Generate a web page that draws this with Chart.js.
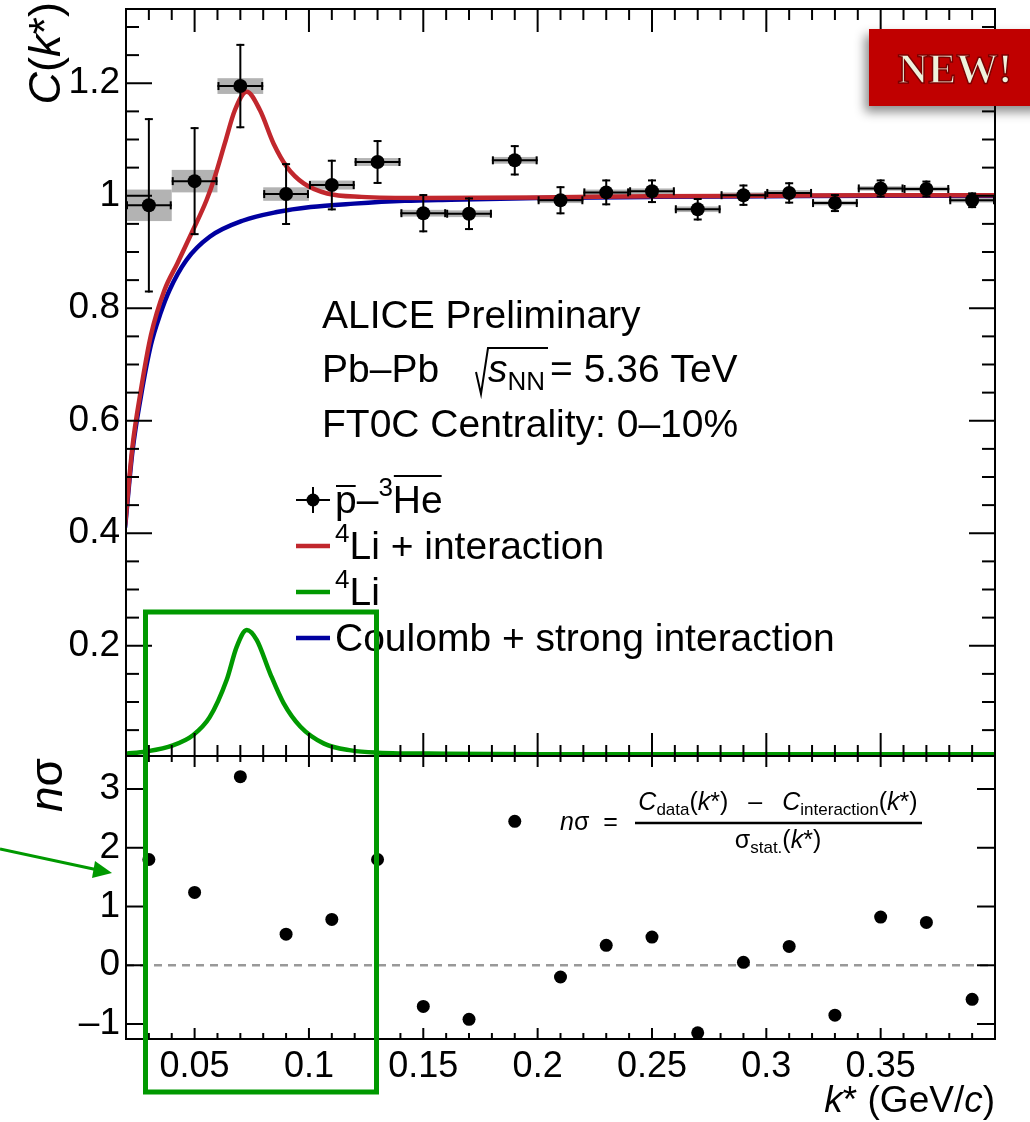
<!DOCTYPE html>
<html>
<head>
<meta charset="utf-8">
<script src="https://cdn.jsdelivr.net/npm/chart.js@4.4.1/dist/chart.umd.min.js"></script>
<style>
  html, body { margin: 0; padding: 0; background: #fff; }
  #wrap { position: relative; width: 1030px; height: 1122px; }
  #wrap canvas { position: absolute; left: 0; top: 0; }
</style>
</head>
<body>
<div id="wrap">
  <canvas id="topPad" width="1030" height="1122"></canvas>
  <canvas id="bottomPad" width="1030" height="1122"></canvas>
</div>
<script>
// pbar - 3Hebar correlation function, Pb-Pb 5.36 TeV
const kBins = [0.03, 0.05, 0.07, 0.09, 0.11, 0.13, 0.15, 0.17, 0.19, 0.21, 0.23, 0.25, 0.27, 0.29, 0.31, 0.33, 0.35, 0.37, 0.39];
const binWidth = 0.02;
const cData = [0.983, 1.026, 1.195, 1.003, 1.019, 1.060, 0.969, 0.968, 1.063, 0.992, 1.006, 1.008, 0.976, 1.001, 1.005, 0.987, 1.013, 1.012, 0.992];
const statErr = [0.155, 0.096, 0.075, 0.055, 0.045, 0.039, 0.034, 0.029, 0.027, 0.025, 0.023, 0.021, 0.020, 0.019, 0.019, 0.016, 0.016, 0.015, 0.014];
const systErr = [0.028, 0.020, 0.014, 0.012, 0.008, 0.007, 0.006, 0.006, 0.006, 0.005, 0.005, 0.005, 0.005, 0.005, 0.005, 0.004, 0.004, 0.004, 0.004];
const nSigma = [1.80, 1.24, 3.21, 0.53, 0.78, 1.80, -0.70, -0.92, 2.45, -0.20, 0.34, 0.48, -1.15, 0.05, 0.32, -0.85, 0.82, 0.73, -0.58];

// 4Li + interaction
const liIntK = [0.0196, 0.0228, 0.0265, 0.0309, 0.0368, 0.0425, 0.0486, 0.0552, 0.0588, 0.0632, 0.0676, 0.0728, 0.0786, 0.0845, 0.0904, 0.0977, 0.108, 0.123, 0.15, 0.2, 0.25, 0.3, 0.35, 0.4];
const liIntC = [0.414, 0.553, 0.654, 0.752, 0.832, 0.880, 0.933, 0.992, 1.033, 1.093, 1.152, 1.185, 1.152, 1.093, 1.051, 1.022, 1.004, 0.998, 0.996, 0.997, 0.999, 1.000, 1.001, 1.001];
// Coulomb + strong interaction
const coulK = [0.0196, 0.0228, 0.0265, 0.0309, 0.035, 0.039, 0.0463, 0.0566, 0.0713, 0.086, 0.1007, 0.1197, 0.1418, 0.162, 0.2, 0.25, 0.3, 0.35, 0.4];
const coulC = [0.410, 0.545, 0.643, 0.735, 0.790, 0.832, 0.885, 0.927, 0.956, 0.971, 0.980, 0.986, 0.991, 0.993, 0.996, 0.998, 0.999, 1.000, 1.000];
// 4Li alone
const liK = [0.02, 0.0287, 0.0405, 0.0493, 0.0566, 0.064, 0.0684, 0.0728, 0.0772, 0.083, 0.0889, 0.0963, 0.1066, 0.1184, 0.13, 0.16, 0.2, 0.3, 0.4];
const liC = [0.008, 0.012, 0.023, 0.041, 0.073, 0.139, 0.198, 0.228, 0.21, 0.151, 0.098, 0.056, 0.026, 0.014, 0.010, 0.008, 0.007, 0.007, 0.007];

const xTicks = [0.05, 0.1, 0.15, 0.2, 0.25, 0.3, 0.35];
const topYTicks = [0.2, 0.4, 0.6, 0.8, 1, 1.2];
const bottomYTicks = [-1, 0, 1, 2, 3];

const FONT = '"Liberation Sans", Arial, Helvetica, sans-serif';
const RED = '#c1272d', BLUE = '#0000a0', GREEN = '#009900';

function font(size, italic) { return (italic ? 'italic ' : '') + size + 'px ' + FONT; }

// draw a run of text pieces (sub/superscripts, italics, overlines)
function rich(ctx, x, y, parts, align) {
  let total = 0;
  for (const p of parts) {
    ctx.font = font(p.s, p.i);
    p.w = ctx.measureText(p.t).width;
    total += p.w + (p.g || 0);
  }
  let cx = align === 'right' ? x - total : align === 'center' ? x - total / 2 : x;
  ctx.textAlign = 'left';
  ctx.textBaseline = 'alphabetic';
  for (const p of parts) {
    ctx.font = font(p.s, p.i);
    ctx.fillText(p.t, cx, y + (p.dy || 0));
    if (p.bar) {
      ctx.beginPath();
      ctx.moveTo(cx + 1, y - p.bar);
      ctx.lineTo(cx + p.w - 1, y - p.bar);
      ctx.stroke();
    }
    cx += p.w + (p.g || 0);
  }
}

function seg(ctx, x1, y1, x2, y2) {
  ctx.beginPath(); ctx.moveTo(x1, y1); ctx.lineTo(x2, y2); ctx.stroke();
}

// ROOT style frame with inward ticks
function drawFrame(chart, o) {
  const { ctx, chartArea: a, scales: { x, y } } = chart;
  ctx.save();
  ctx.strokeStyle = '#000';
  ctx.lineWidth = 2;
  ctx.strokeRect(a.left, a.top, a.right - a.left, a.bottom - a.top);
  for (let i = Math.ceil(x.min / 0.01 - 1e-6); i <= Math.floor(x.max / 0.01 + 1e-6); i++) {
    const px = x.getPixelForValue(i * 0.01);
    const len = i % 5 === 0 ? o.xMaj : o.xMin;
    seg(ctx, px, a.top, px, a.top + len);
    seg(ctx, px, a.bottom, px, a.bottom - len);
  }
  for (let i = Math.ceil(y.min / o.yStep - 1e-6); i <= Math.floor(y.max / o.yStep + 1e-6); i++) {
    const py = y.getPixelForValue(i * o.yStep);
    const len = i % o.yRatio === 0 ? o.yMaj : o.yMin;
    seg(ctx, a.left, py, a.left + len, py);
    seg(ctx, a.right, py, a.right - len, py);
  }
  ctx.restore();
}

const fixAxis = (w, h) => s => {
  if (w !== undefined) s.width = w;
  if (h !== undefined) s.height = h;
  s.paddingTop = 0; s.paddingBottom = 0; s.paddingLeft = 0; s.paddingRight = 0;
};

// ---------- upper pad ----------
const topPlugin = {
  id: 'topPad',
  beforeDatasetsDraw(chart) {
    const { ctx, scales: { x, y } } = chart;
    ctx.save();
    ctx.fillStyle = '#b3b3b3';
    kBins.forEach((k, i) => {
      const x1 = x.getPixelForValue(k - binWidth / 2), x2 = x.getPixelForValue(k + binWidth / 2);
      const y1 = y.getPixelForValue(cData[i] + systErr[i]), y2 = y.getPixelForValue(cData[i] - systErr[i]);
      ctx.fillRect(x1, y1, x2 - x1, y2 - y1);
    });
    ctx.restore();
  },
  beforeDatasetDraw(chart, args) {
    if (args.index !== 0) return;
    const { ctx, scales: { x, y } } = chart;
    ctx.save();
    ctx.strokeStyle = '#000';
    ctx.lineWidth = 2;
    kBins.forEach((k, i) => {
      const px = x.getPixelForValue(k), py = y.getPixelForValue(cData[i]);
      const x1 = x.getPixelForValue(k - binWidth / 2), x2 = x.getPixelForValue(k + binWidth / 2);
      const y1 = y.getPixelForValue(cData[i] + statErr[i]), y2 = y.getPixelForValue(cData[i] - statErr[i]);
      seg(ctx, x1, py, x2, py);
      seg(ctx, x1 + 1, py - 4, x1 + 1, py + 4);
      seg(ctx, x2 - 1, py - 4, x2 - 1, py + 4);
      seg(ctx, px, y1, px, y2);
      seg(ctx, px - 4, y1 + 1, px + 4, y1 + 1);
      seg(ctx, px - 4, y2 - 1, px + 4, y2 - 1);
    });
    ctx.restore();
  },
  afterDraw(chart) {
    const ctx = chart.ctx;
    drawFrame(chart, { xMaj: 23, xMin: 11, yStep: 0.05, yRatio: 4, yMaj: 26, yMin: 13 });
    ctx.save();
    ctx.fillStyle = '#000';
    ctx.strokeStyle = '#000';
    ctx.lineWidth = 2;

    // y title
    ctx.save();
    ctx.translate(60, 2);
    ctx.rotate(-Math.PI / 2);
    rich(ctx, 0, 0, [{ t: 'C', s: 45, i: true }, { t: '(', s: 45 }, { t: 'k', s: 45, i: true }, { t: '*', s: 45 }, { t: ')', s: 45 }], 'right');
    ctx.restore();

    // text block
    const T = 39;
    rich(ctx, 322, 328, [{ t: 'ALICE Preliminary', s: T }]);
    rich(ctx, 322, 382, [{ t: 'Pb–Pb', s: T }]);
    ctx.beginPath();
    ctx.moveTo(476, 372); ctx.lineTo(481, 394); ctx.lineTo(488, 348); ctx.lineTo(548, 348);
    ctx.stroke();
    rich(ctx, 488, 382, [{ t: 's', s: T, i: true }, { t: 'NN', s: 26, dy: 8, g: 5 }, { t: '= 5.36 TeV', s: T }]);
    rich(ctx, 322, 437, [{ t: 'FT0C Centrality: 0–10%', s: T }]);

    // legend
    const rows = [500, 546, 592, 638];
    ctx.beginPath(); ctx.moveTo(296, rows[0]); ctx.lineTo(330, rows[0]); ctx.moveTo(313, rows[0] - 13); ctx.lineTo(313, rows[0] + 13); ctx.stroke();
    ctx.beginPath(); ctx.arc(313, rows[0], 6.5, 0, Math.PI * 2); ctx.fill();
    [[1, RED], [2, GREEN], [3, BLUE]].forEach(([r, c]) => {
      ctx.save(); ctx.strokeStyle = c; ctx.lineWidth = 4.5; seg(ctx, 296, rows[r], 330, rows[r]); ctx.restore();
    });
    rich(ctx, 335, rows[0] + 13, [{ t: 'p', s: T, bar: 27 }, { t: '–', s: T }, { t: '3', s: 26, dy: -17 }, { t: 'He', s: T, bar: 37 }]);
    rich(ctx, 335, rows[1] + 13, [{ t: '4', s: 26, dy: -17 }, { t: 'Li + interaction', s: T }]);
    rich(ctx, 335, rows[2] + 13, [{ t: '4', s: 26, dy: -17 }, { t: 'Li', s: T }]);
    rich(ctx, 335, rows[3] + 13, [{ t: 'Coulomb + strong interaction', s: T }]);
    ctx.restore();
  }
};

new Chart(document.getElementById('topPad'), {
  type: 'scatter',
  data: {
    datasets: [
      {
        label: 'p-3He',
        data: kBins.map((k, i) => ({ x: k, y: cData[i] })),
        pointRadius: 7, pointBackgroundColor: '#000', pointBorderWidth: 0
      },
      {
        label: '4Li + interaction',
        data: liIntK.map((k, i) => ({ x: k, y: liIntC[i] })),
        showLine: true, borderColor: RED, borderWidth: 4.5, pointRadius: 0, cubicInterpolationMode: 'monotone'
      },
      {
        label: 'Coulomb + strong interaction',
        data: coulK.map((k, i) => ({ x: k, y: coulC[i] })),
        showLine: true, borderColor: BLUE, borderWidth: 4.5, pointRadius: 0, cubicInterpolationMode: 'monotone'
      },
      {
        label: '4Li',
        data: liK.map((k, i) => ({ x: k, y: liC[i] })),
        showLine: true, borderColor: GREEN, borderWidth: 4.5, pointRadius: 0, cubicInterpolationMode: 'monotone'
      }
    ]
  },
  options: {
    responsive: false,
    animation: false,
    events: [],
    layout: { padding: { left: 0, right: 35, top: 9, bottom: 366 } },
    plugins: { legend: { display: false }, tooltip: { enabled: false } },
    scales: {
      x: { type: 'linear', min: 0.02, max: 0.4, display: false },
      y: {
        min: 0.004, max: 1.332,
        afterFit: fixAxis(126),
        afterBuildTicks: s => { s.ticks = topYTicks.map(v => ({ value: v })); },
        grid: { display: false, drawTicks: false },
        border: { display: false },
        ticks: { color: '#000', padding: 6, font: { family: FONT, size: 37 }, callback: v => String(v) }
      }
    }
  },
  plugins: [topPlugin]
});

// ---------- lower pad ----------
const bottomPlugin = {
  id: 'bottomPad',
  afterDraw(chart) {
    const ctx = chart.ctx;
    drawFrame(chart, { xMaj: 11, xMin: 6, yStep: 1, yRatio: 1, yMaj: 18, yMin: 18 });
    ctx.save();
    ctx.fillStyle = '#000';
    ctx.strokeStyle = '#000';
    ctx.lineWidth = 2;

    // y title
    ctx.save();
    ctx.translate(62, 758);
    ctx.rotate(-Math.PI / 2);
    rich(ctx, 0, 0, [{ t: 'n', s: 46, i: true }, { t: 'σ', s: 46 }], 'right');
    ctx.restore();

    // x title
    rich(ctx, 995, 1112, [{ t: 'k', s: 37, i: true }, { t: '* (GeV/', s: 37 }, { t: 'c', s: 37, i: true }, { t: ')', s: 37 }], 'right');

    // formula
    const F = 25, S = 17;
    rich(ctx, 560, 830, [{ t: 'n', s: F, i: true }, { t: 'σ  =', s: F }]);
    rich(ctx, 778, 810, [
      { t: 'C', s: F, i: true }, { t: 'data', s: S, dy: 5 }, { t: '(', s: F }, { t: 'k', s: F, i: true }, { t: '*)', s: F, g: 20 },
      { t: '–', s: F, g: 20 },
      { t: 'C', s: F, i: true }, { t: 'interaction', s: S, dy: 5 }, { t: '(', s: F }, { t: 'k', s: F, i: true }, { t: '*)', s: F }
    ], 'center');
    ctx.lineWidth = 2.5;
    seg(ctx, 635, 823, 922, 823);
    rich(ctx, 778, 848, [{ t: 'σ', s: F }, { t: 'stat.', s: S, dy: 5 }, { t: '(', s: F }, { t: 'k', s: F, i: true }, { t: '*)', s: F }], 'center');

    // green highlight box + arrow
    ctx.strokeStyle = GREEN;
    ctx.fillStyle = GREEN;
    ctx.lineWidth = 5;
    ctx.strokeRect(145.5, 612, 231, 480);
    ctx.lineWidth = 3;
    seg(ctx, 0, 849, 98, 870);
    ctx.beginPath();
    ctx.moveTo(112, 873); ctx.lineTo(95, 861); ctx.lineTo(92, 878); ctx.closePath();
    ctx.fill();

    // NEW! badge
    ctx.save();
    ctx.shadowColor = 'rgba(0,0,0,0.45)';
    ctx.shadowBlur = 10;
    ctx.shadowOffsetX = -4;
    ctx.shadowOffsetY = 6;
    ctx.fillStyle = '#c00000';
    ctx.fillRect(869, 29, 175, 77);
    ctx.restore();
    ctx.font = 'bold 42px "Liberation Serif", "DejaVu Serif", serif';
    ctx.textAlign = 'center';
    ctx.textBaseline = 'alphabetic';
    ctx.fillStyle = '#eef2dc';
    ctx.strokeStyle = '#7a0000';
    ctx.lineWidth = 1.5;
    ctx.fillText('NEW!', 955, 83);
    ctx.strokeText('NEW!', 955, 83);
    ctx.restore();
  }
};

new Chart(document.getElementById('bottomPad'), {
  type: 'scatter',
  data: {
    datasets: [
      {
        label: 'n sigma',
        data: kBins.map((k, i) => ({ x: k, y: nSigma[i] })),
        pointRadius: 6.5, pointBackgroundColor: '#000', pointBorderWidth: 0
      },
      {
        label: 'zero',
        data: [{ x: 0.02, y: 0 }, { x: 0.4, y: 0 }],
        showLine: true, borderColor: '#999999', borderWidth: 2.5, borderDash: [8, 6], pointRadius: 0
      }
    ]
  },
  options: {
    responsive: false,
    animation: false,
    events: [],
    layout: { padding: { left: 0, right: 35, top: 756, bottom: 0 } },
    plugins: { legend: { display: false }, tooltip: { enabled: false } },
    scales: {
      x: {
        type: 'linear', min: 0.02, max: 0.4,
        afterFit: fixAxis(undefined, 83),
        afterBuildTicks: s => { s.ticks = xTicks.map(v => ({ value: v })); },
        grid: { display: false, drawTicks: false },
        border: { display: false },
        ticks: { color: '#000', padding: 6, autoSkip: false, maxRotation: 0, font: { family: FONT, size: 36 }, callback: v => String(v) }
      },
      y: {
        min: -1.255, max: 3.562,
        afterFit: fixAxis(126),
        afterBuildTicks: s => { s.ticks = bottomYTicks.map(v => ({ value: v })); },
        grid: { display: false, drawTicks: false },
        border: { display: false },
        ticks: { color: '#000', padding: 6, font: { family: FONT, size: 37 }, callback: v => v < 0 ? '–' + Math.abs(v) : String(v) }
      }
    }
  },
  plugins: [bottomPlugin]
});
</script>
</body>
</html>
